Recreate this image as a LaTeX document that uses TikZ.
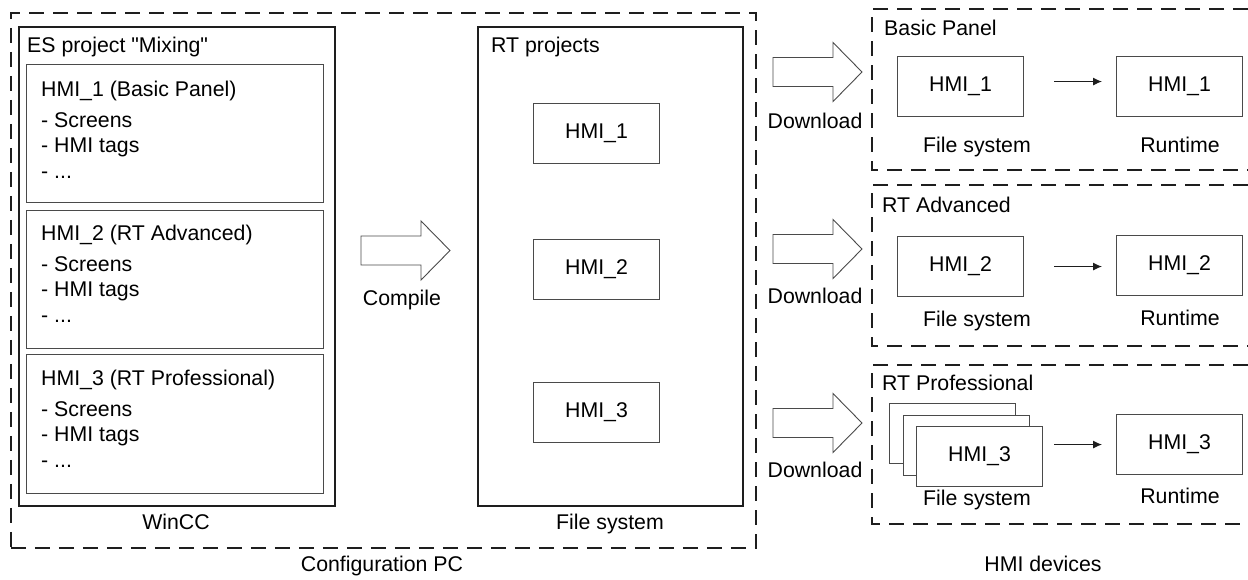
\documentclass[tikz,border=0pt]{standalone}
\usepackage{fontspec}
\setmainfont{Liberation Sans}[Ligatures=TeXOff]
\usetikzlibrary{arrows.meta, positioning}
\definecolor{ccDark}{HTML}{1E1E1E}
\definecolor{ccGray}{HTML}{4A4A4A}
\newcommand{\hmilist}[1]{#1\\[5pt]- Screens\\- HMI tags\\- ...}

\begin{document}
\begin{tikzpicture}[x=1pt, y=-1pt,
  every node/.style={font=\fontsize{21.3}{25.5}\selectfont, text=black, inner sep=0pt},
  frame/.style={draw=ccDark, line width=1.6pt, dash pattern=on 15pt off 9pt},
  outerbox/.style={draw=ccDark, line width=2.4pt, anchor=north west},
  innerbox/.style={draw=ccGray, line width=1.1pt, anchor=north west},
  hmibox/.style={innerbox, fill=white, minimum width=126pt, minimum height=60pt},
  bigarrow/.pic={\draw[draw=ccGray, line width=0.9pt, fill=white]
    (0,-14.5) -- (60,-14.5) -- (60,-29.5) -- (89,0) -- (60,29.5) -- (60,14.5) -- (0,14.5) -- cycle;},
  flow/.style={draw=ccDark, line width=1.1pt, -{Latex[length=9pt,width=8pt]}}]
  \useasboundingbox (0,0) rectangle (1248,579);

  % configuration PC
  \node[frame, anchor=north west, minimum width=745pt, minimum height=535pt] (cfgpc) at (10,12) {};
  \node[anchor=base] (cfglbl) at (382,571) {Configuration PC};

  \node[outerbox, minimum width=316pt, minimum height=479pt] (wincc) at (18,26) {};
  \node[anchor=base west] (estitle) at (27,52) {ES project "Mixing"};
  \node[innerbox, minimum width=297pt, minimum height=138pt] (es1) at (26,64) {};
  \node[innerbox, minimum width=297pt, minimum height=138pt] (es2) at (26,210) {};
  \node[innerbox, minimum width=297pt, minimum height=139pt] (es3) at (26,354) {};
  \node[align=left, anchor=base west] (list1) at (41,178) {\hmilist{HMI\_1 (Basic Panel)}};
  \node[align=left, anchor=base west] (list2) at (41,322) {\hmilist{HMI\_2 (RT Advanced)}};
  \node[align=left, anchor=base west] (list3) at (41,467) {\hmilist{HMI\_3 (RT Professional)}};
  \node[anchor=base] (winlbl) at (176,529) {WinCC};

  \pic (compile) at (361,250.5) {bigarrow};
  \node[anchor=base] (complbl) at (402,305) {Compile};

  \node[outerbox, minimum width=265pt, minimum height=479pt] (rtproj) at (477,26) {};
  \node[anchor=base west] (rttitle) at (491,52) {RT projects};
  \node[hmibox] (rt1) at (533,103) {HMI\_1};
  \node[hmibox] (rt2) at (533,239) {HMI\_2};
  \node[hmibox] (rt3) at (533,382) {HMI\_3};
  \node[anchor=base] (rtlbl) at (610,529) {File system};

  % HMI devices
  \pic (down1) at (773,72) {bigarrow};
  \pic (down2) at (773,249) {bigarrow};
  \pic (down3) at (773,423) {bigarrow};
  \node[anchor=base] (dlbl1) at (815,128) {Download};
  \node[anchor=base] (dlbl2) at (815,303) {Download};
  \node[anchor=base] (dlbl3) at (815,477) {Download};

  \draw[frame] (1248,9) -| (872,170) -- (1248,170);
  \draw[frame] (1248,185) -| (872,346) -- (1248,346);
  \draw[frame] (1248,365) -| (872,524) -- (1248,524);
  \node[anchor=base west] (basic) at (884,35) {Basic Panel};
  \node[anchor=base west] (adv) at (882,212) {RT Advanced};
  \node[anchor=base west] (prof) at (882,390) {RT Professional};

  \node[hmibox] (fs1) at (897,56) {HMI\_1};
  \node[hmibox] (run1) at (1116,56) {HMI\_1};
  \node[hmibox] (fs2) at (897,236) {HMI\_2};
  \node[hmibox] (run2) at (1116,235) {HMI\_2};
  \node[hmibox] (fs3c) at (889,403) {};
  \node[hmibox] (fs3b) at (903,415) {};
  \node[hmibox] (fs3) at (916,426) {HMI\_3};
  \node[hmibox] (run3) at (1116,414) {HMI\_3};

  \draw[flow, shorten <=30pt, shorten >=14pt] ([yshift=5pt]fs1.east) -- ([yshift=5pt]run1.west);
  \draw[flow, shorten <=30pt, shorten >=14pt] (fs2.east) -- (fs2.east -| run2.west);
  \draw[flow, shorten <=11pt, shorten >=14pt] (fs3.east |- run3.west) -- (run3.west);

  \node[anchor=base] (fslbl1) at (977,152) {File system};
  \node[anchor=base] (fslbl2) at (977,326) {File system};
  \node[anchor=base] (fslbl3) at (977,505) {File system};
  \node[anchor=base] (runlbl1) at (1180,152) {Runtime};
  \node[anchor=base] (runlbl2) at (1180,325) {Runtime};
  \node[anchor=base] (runlbl3) at (1180,503) {Runtime};
  \node[anchor=base] (devlbl) at (1043,571) {HMI devices};
\end{tikzpicture}
\end{document}
